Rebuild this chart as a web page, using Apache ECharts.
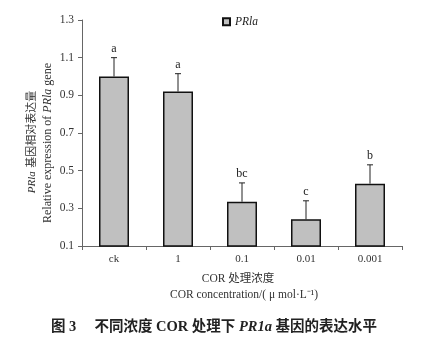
<!DOCTYPE html>
<html><head><meta charset="utf-8">
<script src="https://cdn.jsdelivr.net/npm/echarts@6/dist/echarts.min.js"></script>
<style>html,body{margin:0;padding:0;background:#fff}#c{width:441px;height:341px}</style>
</head><body><div id="c"></div>
<script>
const categories = ['ck', '1', '0.1', '0.01', '0.001'];
const values = [1.0, 0.92, 0.335, 0.242, 0.431];
const errors = [0.10, 0.095, 0.10, 0.098, 0.10];
const letters = ['a', 'a', 'bc', 'c', 'b'];
const yTicks = [0.1, 0.3, 0.5, 0.7, 0.9, 1.1, 1.3];

const serif = '"Liberation Serif", "Times New Roman", "Noto Sans CJK SC", serif';
const chart = echarts.init(document.getElementById('c'), null, {renderer: 'canvas'});
chart.setOption({
  animation: false,
  backgroundColor: '#fff',
  textStyle: {fontFamily: serif},
  grid: {left: 82, right: 39, top: 20, bottom: 95},
  legend: {
    left: 217, top: 11, itemWidth: 7, itemHeight: 7, itemGap: 3,
    textStyle: {fontFamily: serif, fontStyle: 'italic', fontSize: 11.5, color: '#222'},
    data: [{name: 'PRla', icon: 'rect'}]
  },
  xAxis: {
    type: 'category', data: categories,
    axisLine: {lineStyle: {color: '#666', width: 1}},
    axisTick: {show: true, length: 4, lineStyle: {color: '#666'}},
    axisLabel: {fontFamily: serif, fontSize: 11, color: '#333', margin: 8}
  },
  yAxis: {
    type: 'value', min: yTicks[0], max: yTicks[yTicks.length - 1], interval: 0.2,
    splitLine: {show: false},
    axisLine: {show: true, lineStyle: {color: '#666', width: 1}},
    axisTick: {show: true, length: 4, lineStyle: {color: '#666'}},
    axisLabel: {fontFamily: serif, fontSize: 11.5, color: '#333', margin: 8,
      formatter: v => v.toFixed(1)}
  },
  series: [
    {
      name: 'PRla', type: 'bar', data: values, barWidth: 30, clip: true,
      itemStyle: {color: '#c0c0c0', borderColor: '#111', borderWidth: 1.5}
    },
    {
      type: 'custom', name: 'err', silent: true, z: 5,
      data: values.map((v, i) => [i, v, v + errors[i]]),
      renderItem: function (params, api) {
        const i = api.value(0);
        const p0 = api.coord([i, api.value(1)]);
        const p1 = api.coord([i, api.value(2)]);
        const cap = 3;
        return {
          type: 'group',
          children: [
            {type: 'line', shape: {x1: p0[0], y1: p0[1], x2: p1[0], y2: p1[1]}, style: {stroke: '#222', lineWidth: 1}},
            {type: 'line', shape: {x1: p1[0] - cap, y1: p1[1], x2: p1[0] + cap, y2: p1[1]}, style: {stroke: '#222', lineWidth: 1}},
            {type: 'text', x: p1[0], y: p1[1] - 3, style: {text: letters[params.dataIndex], font: '12px ' + serif, fill: '#222', textAlign: 'center', textVerticalAlign: 'bottom'}}
          ]
        };
      }
    }
  ],
  graphic: [
    {type: 'text', x: 32, y: 142, rotation: Math.PI / 2, style: {
      rich: {i: {fontFamily: serif, fontStyle: 'italic', fontSize: 11, fill: '#333'}, n: {fontFamily: serif, fontSize: 11, fill: '#333'}},
      text: '{i|PRla} {n|基因相对表达量}', textAlign: 'center', textVerticalAlign: 'middle', fill: '#333'}},
    {type: 'text', x: 48, y: 143, rotation: Math.PI / 2, style: {
      rich: {i: {fontFamily: serif, fontStyle: 'italic', fontSize: 12, fill: '#333'}, n: {fontFamily: serif, fontSize: 12, fill: '#333'}},
      text: '{n|Relative expression of }{i|PRla}{n| gene}', textAlign: 'center', textVerticalAlign: 'middle', fill: '#333'}},
    {type: 'text', x: 238, y: 279, style: {text: 'COR 处理浓度', font: '11.5px ' + serif, fill: '#333', textAlign: 'center', textVerticalAlign: 'middle'}},
    {type: 'text', x: 244, y: 295, style: {text: 'COR concentration/( μ mol·L⁻¹)', font: '11.5px ' + serif, fill: '#333', textAlign: 'center', textVerticalAlign: 'middle'}},
    {type: 'text', x: 214, y: 327, style: {
      rich: {b: {fontFamily: serif, fontWeight: 'bold', fontSize: 14.5, fill: '#222'}, i: {fontFamily: serif, fontWeight: 'bold', fontStyle: 'italic', fontSize: 14.5, fill: '#222'}},
      text: '{b|图 3　 不同浓度 COR 处理下 }{i|PR1a}{b| 基因的表达水平}', textAlign: 'center', textVerticalAlign: 'middle'}}
  ]
});
</script></body></html>
